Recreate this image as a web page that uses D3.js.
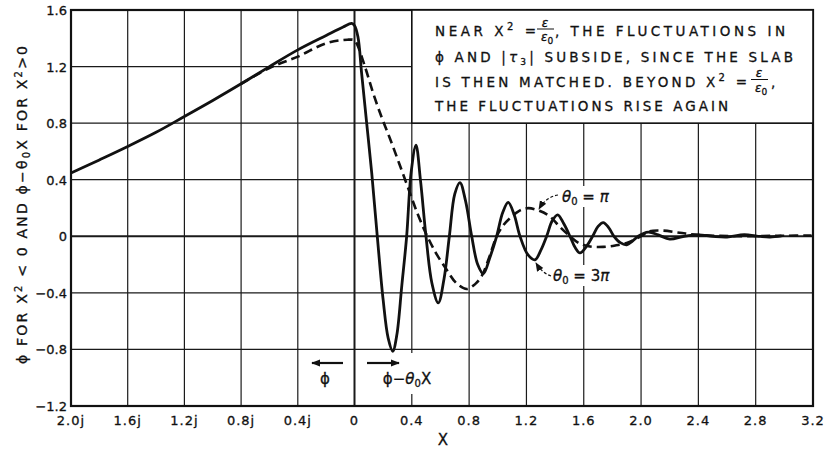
<!DOCTYPE html>
<html>
<head>
<meta charset="utf-8">
<script src="https://cdn.jsdelivr.net/npm/d3@7"></script>
<style>
  body { margin: 0; background: #fff; }
  text { font-family: "DejaVu Sans", sans-serif; fill: #111; stroke: #111; stroke-width: 0.3px; }
</style>
</head>
<body>
<svg id="svgMain" width="835" height="449"></svg>
<script>
// ---- data (negative X = imaginary axis, i.e. X = jx) ----
const xTicks = [-2.0, -1.6, -1.2, -0.8, -0.4, 0, 0.4, 0.8, 1.2, 1.6, 2.0, 2.4, 2.8, 3.2];
const xTickLabels = ["2.0j", "1.6j", "1.2j", "0.8j", "0.4j", "0", "0.4", "0.8", "1.2", "1.6", "2.0", "2.4", "2.8", "3.2"];
const yTicks = [1.6, 1.2, 0.8, 0.4, 0, -0.4, -0.8, -1.2];
const yTickLabels = ["1.6", "1.2", "0.8", "0.4", "0", "\u22120.4", "\u22120.8", "\u22121.2"];

// theta0 = 3*pi (solid)
const solidX = [-2.0, -1.8, -1.6, -1.4, -1.2, -1.0, -0.8, -0.6, -0.4, -0.2, -0.08, -0.02, 0,
  0.024, 0.05, 0.085, 0.12, 0.159, 0.2, 0.235, 0.267, 0.295, 0.33, 0.364, 0.395, 0.429, 0.46,
  0.499, 0.54, 0.585, 0.625, 0.662, 0.70, 0.736, 0.775, 0.818, 0.86, 0.899, 0.945, 0.992,
  1.035, 1.073, 1.115, 1.155, 1.21, 1.26, 1.30, 1.341, 1.38, 1.418, 1.46, 1.504, 1.54, 1.574,
  1.62, 1.662, 1.70, 1.736, 1.775, 1.811, 1.855, 1.9, 1.94, 1.98, 2.05, 2.12, 2.2, 2.3, 2.4,
  2.5, 2.6, 2.72, 2.82, 2.9, 2.98];
const solidY = [0.447, 0.54, 0.635, 0.735, 0.847, 0.96, 1.078, 1.2, 1.318, 1.42, 1.48, 1.505, 1.49,
  1.41, 1.15, 0.8, 0.45, 0, -0.45, -0.72, -0.813, -0.7, -0.35, 0, 0.45, 0.645, 0.4,
  0, -0.33, -0.471, -0.3, 0, 0.3, 0.38, 0.25, 0, -0.2, -0.265, -0.15, 0,
  0.17, 0.24, 0.15, 0, -0.13, -0.166, -0.1, 0, 0.11, 0.152, 0.09, 0, -0.08, -0.118,
  -0.07, 0, 0.07, 0.097, 0.06, 0, -0.045, -0.06, -0.035, 0, 0.03, 0.01, -0.02, 0, 0.01,
  0, -0.005, 0.012, 0, -0.005, 0.003];

// theta0 = pi (dashed)
const dashX = [-0.8, -0.6, -0.4, -0.2, -0.05, 0, 0.017, 0.073, 0.131, 0.19, 0.248, 0.31, 0.375,
  0.44, 0.508, 0.575, 0.643, 0.71, 0.783, 0.84, 0.888, 0.94, 0.992, 1.04, 1.085, 1.15, 1.213,
  1.29, 1.364, 1.43, 1.504, 1.57, 1.644, 1.736, 1.82, 1.9, 1.96, 2.015, 2.06, 2.15, 2.27, 2.39,
  2.55, 2.69, 2.85, 3.0, 3.19];
const dashY = [1.078, 1.19, 1.27, 1.365, 1.39, 1.386, 1.36, 1.2, 1.01, 0.84, 0.69, 0.52, 0.34,
  0.16, 0, -0.13, -0.236, -0.33, -0.373, -0.34, -0.28, -0.15, 0, 0.08, 0.128, 0.18, 0.199,
  0.18, 0.14, 0.07, 0, -0.05, -0.072, -0.075, -0.065, -0.048, -0.02, 0.01, 0.035, 0.04, 0.025, 0.01,
  0.003, 0, 0.002, 0.004, 0.005];

let svgMain = d3.select("#svgMain");

// Scales - left half (imaginary) slightly narrower than right half
const xScale = d3.scaleLinear().domain([-2, 0, 3.2]).range([71, 354.5, 813]);
const yScale = d3.scaleLinear().domain([-1.2, 1.6]).range([406, 10]);

svgMain.append("rect").attr("width", 835).attr("height", 449).attr("fill", "#fff");

// Gridlines
svgMain.append("g").attr("class", "x gridlines")
  .selectAll("line").data(xTicks).enter().append("line")
  .attr("x1", d => xScale(d)).attr("x2", d => xScale(d))
  .attr("y1", yScale(1.6)).attr("y2", yScale(-1.2))
  .attr("stroke", "#1a1a1a")
  .attr("stroke-width", d => d === 0 ? 2 : 1.2);

svgMain.append("g").attr("class", "y gridlines")
  .selectAll("line").data(yTicks).enter().append("line")
  .attr("x1", xScale(-2)).attr("x2", xScale(3.2))
  .attr("y1", d => yScale(d)).attr("y2", d => yScale(d))
  .attr("stroke", "#1a1a1a")
  .attr("stroke-width", d => d === 0 ? 2 : 1.2);

// Border
svgMain.append("rect")
  .attr("x", xScale(-2)).attr("y", yScale(1.6))
  .attr("width", xScale(3.2) - xScale(-2)).attr("height", yScale(-1.2) - yScale(1.6))
  .attr("fill", "none").attr("stroke", "#111").attr("stroke-width", 2.2);

// Tick labels
svgMain.append("g").selectAll("text").data(xTicks).enter().append("text")
  .attr("x", d => xScale(d)).attr("y", 425)
  .attr("text-anchor", "middle").attr("font-size", "13px")
  .style("letter-spacing", "1px")
  .text((d, i) => xTickLabels[i]);

svgMain.append("g").selectAll("text").data(yTicks).enter().append("text")
  .attr("x", 67).attr("y", d => yScale(d) + 5)
  .attr("text-anchor", "end").attr("font-size", "13px")
  .text((d, i) => yTickLabels[i]);

// x label
svgMain.append("text")
  .attr("x", 443).attr("y", 445)
  .attr("text-anchor", "middle").attr("font-size", "15px")
  .text("X");

// y label
const yLab = svgMain.append("text")
  .attr("transform", "translate(27,205) rotate(-90)")
  .attr("text-anchor", "middle").attr("font-size", "14px")
  .attr("textLength", 318).attr("lengthAdjust", "spacing");
yLab.append("tspan").text("\u03D5 FOR X");
yLab.append("tspan").attr("dy", -5).attr("font-size", "10px").text("2");
yLab.append("tspan").attr("dy", 5).text(" < 0 AND \u03D5\u2212\u03B8");
yLab.append("tspan").attr("dy", 3).attr("font-size", "10px").text("0");
yLab.append("tspan").attr("dy", -3).text("X FOR X");
yLab.append("tspan").attr("dy", -5).attr("font-size", "10px").text("2");
yLab.append("tspan").attr("dy", 5).text(">0");

// Annotation box
svgMain.append("rect")
  .attr("x", xScale(0.4)).attr("y", yScale(1.6))
  .attr("width", xScale(3.2) - xScale(0.4)).attr("height", yScale(0.8) - yScale(1.6))
  .attr("fill", "#fff").attr("stroke", "#111").attr("stroke-width", 1.6);

function textLine(x, y, len, parts) {
  let t = svgMain.append("text").attr("x", x).attr("y", y)
    .attr("font-size", "13.5px")
    .attr("textLength", len).attr("lengthAdjust", "spacing");
  parts.forEach(p => {
    let s = t.append("tspan").text(p.t);
    if (p.dy) s.attr("dy", p.dy);
    if (p.fs) s.attr("font-size", p.fs);
    if (p.it) s.attr("font-style", "italic");
  });
  return t;
}
function fraction(cx, yNum, yDen) {
  svgMain.append("text").attr("x", cx).attr("y", yNum)
    .attr("text-anchor", "middle").attr("font-size", "12px").attr("font-style", "italic")
    .text("\u03B5");
  let d = svgMain.append("text").attr("x", cx + 2).attr("y", yDen)
    .attr("text-anchor", "middle").attr("font-size", "12px").attr("font-style", "italic");
  d.append("tspan").text("\u03B5");
  d.append("tspan").attr("dy", 3).attr("font-size", "9px").attr("font-style", "normal").text("0");
  svgMain.append("line")
    .attr("x1", cx - 8).attr("x2", cx + 9)
    .attr("y1", (yNum + yDen) / 2 - 5).attr("y2", (yNum + yDen) / 2 - 5)
    .attr("stroke", "#111").attr("stroke-width", 1);
}

textLine(435, 36, 101, [{t: "NEAR X"}, {t: "2", dy: -6, fs: "10px"}, {t: " =", dy: 6}]);
fraction(545, 27, 41);
textLine(555, 36, 230, [{t: ", THE FLUCTUATIONS IN"}]);
textLine(435, 62, 358, [{t: "\u03D5 AND |"}, {t: "\u03C4", it: true}, {t: "3", dy: 3, fs: "9px"},
  {t: "| SUBSIDE, SINCE THE SLAB", dy: -3}]);
textLine(435, 86.5, 312, [{t: "IS THEN MATCHED. BEYOND X"}, {t: "2", dy: -6, fs: "10px"}, {t: " =", dy: 6}]);
fraction(759, 77, 92);
svgMain.append("text").attr("x", 771).attr("y", 86.5).attr("font-size", "13.5px").text(",");
textLine(435, 111, 293, [{t: "THE FLUCTUATIONS RISE AGAIN"}]);

// Curves
const line = d3.line()
  .x(d => xScale(d[0]))
  .y(d => yScale(d[1]))
  .curve(d3.curveCatmullRom.alpha(0.5));

const plot = svgMain.append("g");
plot.append("path")
  .attr("d", line(dashX.map((v, i) => [v, dashY[i]])))
  .attr("fill", "none").attr("stroke", "#111").attr("stroke-width", 2.6)
  .attr("stroke-dasharray", "9,5");
plot.append("path")
  .attr("d", line(solidX.map((v, i) => [v, solidY[i]])))
  .attr("fill", "none").attr("stroke", "#111").attr("stroke-width", 2.8)
  .attr("stroke-linejoin", "round");

// Arrow marker
svgMain.append("defs").append("marker")
  .attr("id", "arr").attr("viewBox", "0 0 10 10")
  .attr("refX", 9).attr("refY", 5)
  .attr("markerWidth", 9).attr("markerHeight", 9)
  .attr("markerUnits", "userSpaceOnUse")
  .attr("orient", "auto")
  .append("path").attr("d", "M0,1 L10,5 L0,9 z").attr("fill", "#111");

// theta labels with leaders
svgMain.append("rect").attr("x", 560).attr("y", 186).attr("width", 58).attr("height", 21).attr("fill", "#fff");
svgMain.append("rect").attr("x", 551).attr("y", 265).attr("width", 68).attr("height", 21).attr("fill", "#fff");

let t1 = svgMain.append("text").attr("x", 562).attr("y", 202).attr("font-size", "15px");
t1.append("tspan").attr("font-style", "italic").text("\u03B8");
t1.append("tspan").attr("dy", 3).attr("font-size", "10px").text("0");
t1.append("tspan").attr("dy", -3).text(" = ");
t1.append("tspan").attr("font-style", "italic").text("\u03C0");

let t2 = svgMain.append("text").attr("x", 553).attr("y", 281).attr("font-size", "15px");
t2.append("tspan").attr("font-style", "italic").text("\u03B8");
t2.append("tspan").attr("dy", 3).attr("font-size", "10px").text("0");
t2.append("tspan").attr("dy", -3).text(" = 3");
t2.append("tspan").attr("font-style", "italic").text("\u03C0");

svgMain.append("path").attr("d", "M558,195 Q546,197 539,209")
  .attr("fill", "none").attr("stroke", "#111").attr("stroke-width", 1.2)
  .attr("stroke-dasharray", "3,2").attr("marker-end", "url(#arr)");
svgMain.append("path").attr("d", "M551,276 Q542,273 536,263")
  .attr("fill", "none").attr("stroke", "#111").attr("stroke-width", 1.2)
  .attr("stroke-dasharray", "3,2").attr("marker-end", "url(#arr)");

// bottom direction arrows
svgMain.append("rect").attr("x", 372).attr("y", 353).attr("width", 70).attr("height", 41).attr("fill", "#fff");
svgMain.append("line").attr("x1", 343).attr("x2", 312).attr("y1", 363).attr("y2", 363)
  .attr("stroke", "#111").attr("stroke-width", 2.2).attr("marker-end", "url(#arr)");
svgMain.append("line").attr("x1", 367).attr("x2", 399).attr("y1", 363).attr("y2", 363)
  .attr("stroke", "#111").attr("stroke-width", 2.2).attr("marker-end", "url(#arr)");

svgMain.append("text").attr("x", 325).attr("y", 384)
  .attr("text-anchor", "middle").attr("font-size", "15px").text("\u03D5");
let t3 = svgMain.append("text").attr("x", 407).attr("y", 384)
  .attr("text-anchor", "middle").attr("font-size", "15px");
t3.append("tspan").text("\u03D5\u2212");
t3.append("tspan").attr("font-style", "italic").text("\u03B8");
t3.append("tspan").attr("dy", 3).attr("font-size", "10px").text("0");
t3.append("tspan").attr("dy", -3).text("X");
</script>
</body>
</html>
